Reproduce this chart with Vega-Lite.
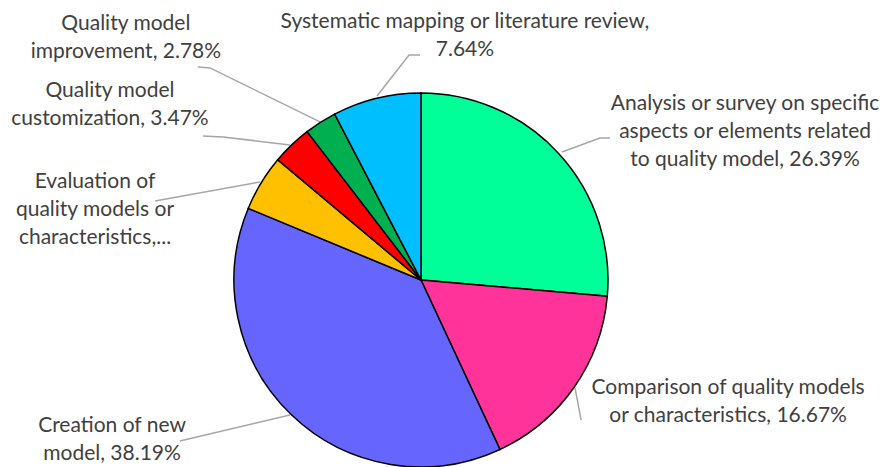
{
  "$schema": "https://vega.github.io/schema/vega-lite/v6.json",
  "width": 882,
  "height": 467,
  "autosize": {"type": "none"},
  "padding": 0,
  "background": "white",
  "config": {"view": {"stroke": null}},
  "datasets": {
    "slices": [
      {"idx": 1, "category": "Analysis or survey on specific aspects or elements related to quality model", "pct": 26.39},
      {"idx": 2, "category": "Comparison of quality models or characteristics", "pct": 16.67},
      {"idx": 3, "category": "Creation of new model", "pct": 38.19},
      {"idx": 4, "category": "Evaluation of quality models or characteristics", "pct": 4.86},
      {"idx": 5, "category": "Quality model customization", "pct": 3.47},
      {"idx": 6, "category": "Quality model improvement", "pct": 2.78},
      {"idx": 7, "category": "Systematic mapping or literature review", "pct": 7.64}
    ],
    "labels": [
      {"label": "Analysis or survey on specific\naspects or elements related\nto quality model, 26.39%", "u": 1.733, "v": 0.952},
      {"label": "Comparison of quality models\nor characteristics, 16.67%", "u": 1.642, "v": -0.567},
      {"label": "Creation of new\nmodel, 38.19%", "u": -1.652, "v": -0.770},
      {"label": "Evaluation of\nquality models or\ncharacteristics,...", "u": -1.743, "v": 0.535},
      {"label": "Quality model\ncustomization, 3.47%", "u": -1.663, "v": 1.021},
      {"label": "Quality model\nimprovement, 2.78%", "u": -1.578, "v": 1.380},
      {"label": "Systematic mapping or literature review,\n7.64%", "u": 0.235, "v": 1.390}
    ],
    "leaders": [
      {"label": "Improvement", "step": 1, "u": -1.193, "v": 1.139},
      {"label": "Improvement", "step": 2, "u": -1.128, "v": 1.134},
      {"label": "Improvement", "step": 3, "u": -0.540, "v": 0.845},
      {"label": "Customization", "step": 1, "u": -1.166, "v": 0.770},
      {"label": "Customization", "step": 2, "u": -1.059, "v": 0.765},
      {"label": "Customization", "step": 3, "u": -0.701, "v": 0.722},
      {"label": "Evaluation", "step": 1, "u": -1.422, "v": 0.422},
      {"label": "Evaluation", "step": 2, "u": -0.861, "v": 0.524},
      {"label": "Systematic", "step": 1, "u": -0.005, "v": 1.203},
      {"label": "Systematic", "step": 2, "u": -0.064, "v": 1.203},
      {"label": "Systematic", "step": 3, "u": -0.235, "v": 0.984},
      {"label": "Analysis", "step": 1, "u": 1.011, "v": 0.759},
      {"label": "Analysis", "step": 2, "u": 0.957, "v": 0.759},
      {"label": "Analysis", "step": 3, "u": 0.754, "v": 0.684},
      {"label": "Comparison", "step": 1, "u": 0.824, "v": -0.578},
      {"label": "Comparison", "step": 2, "u": 0.856, "v": -0.749},
      {"label": "Creation", "step": 1, "u": -1.289, "v": -0.861},
      {"label": "Creation", "step": 2, "u": -0.701, "v": -0.722}
    ]
  },
  "layer": [
    {
      "data": {"name": "leaders"},
      "mark": {"type": "line", "color": "#A6A6A6", "strokeWidth": 1.5},
      "encoding": {
        "x": {"field": "u", "type": "quantitative", "scale": {"domain": [-2.251, 2.465], "nice": false, "zero": false}, "axis": null},
        "y": {"field": "v", "type": "quantitative", "scale": {"domain": [-1.0, 1.497], "nice": false, "zero": false}, "axis": null},
        "detail": {"field": "label"},
        "order": {"field": "step"}
      }
    },
    {
      "data": {"name": "slices"},
      "mark": {"type": "arc", "outerRadius": 187, "stroke": "black", "strokeWidth": 1.5},
      "encoding": {
        "x": {"datum": 0, "type": "quantitative"},
        "y": {"datum": 0, "type": "quantitative"},
        "theta": {"field": "pct", "type": "quantitative", "stack": true},
        "order": {"field": "idx"},
        "color": {
          "field": "category",
          "type": "nominal",
          "sort": null,
          "scale": {
            "domain": [
              "Analysis or survey on specific aspects or elements related to quality model",
              "Comparison of quality models or characteristics",
              "Creation of new model",
              "Evaluation of quality models or characteristics",
              "Quality model customization",
              "Quality model improvement",
              "Systematic mapping or literature review"
            ],
            "range": ["#00FF99", "#FF3399", "#6666FF", "#FFC000", "#FF0000", "#00B050", "#00BFFF"]
          },
          "legend": null
        }
      }
    },
    {
      "data": {"name": "labels"},
      "mark": {"type": "text", "lineBreak": "\n", "lineHeight": 28, "font": "Lato", "fontSize": 21, "color": "#404040", "align": "center", "baseline": "middle", "dy": 2},
      "encoding": {
        "x": {"field": "u", "type": "quantitative"},
        "y": {"field": "v", "type": "quantitative"},
        "text": {"field": "label"}
      }
    }
  ]
}
